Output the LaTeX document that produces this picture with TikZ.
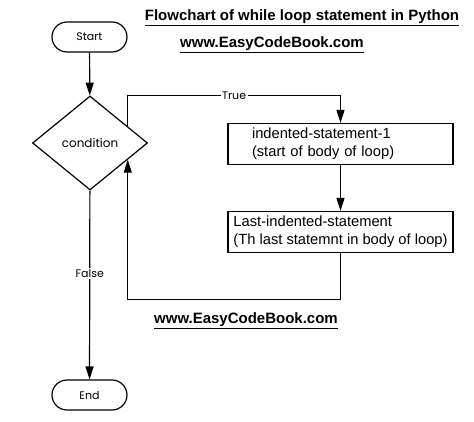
\documentclass[tikz,border=0pt]{standalone}
\usepackage{fontspec}
\setmainfont{Liberation Sans}
\newfontfamily\gothic{Poppins}
\usetikzlibrary{shapes.geometric,arrows.meta,calc}
\tikzset{
  flow/.style={line width=1.2pt, -{Triangle[length=13pt,width=8pt]}},
  term/.style={draw, line width=1.2pt, rounded corners=15pt, minimum width=75pt,
    minimum height=30pt, font=\gothic\fontsize{11}{13}\selectfont},
  cond/.style={draw, diamond, line width=1.2pt, minimum width=115pt,
    minimum height=94pt, inner sep=0pt, font=\gothic\fontsize{12}{14}\selectfont},
  stmt/.style={draw, line width=1.2pt, align=left, minimum width=225pt,
    minimum height=41pt, font=\fontsize{14.7}{18}\selectfont},
  lab/.style={fill=white, inner sep=1.5pt, font=\gothic\fontsize{11}{13}\selectfont},
  heading/.style={font=\bfseries\fontsize{15}{18}\selectfont}
}
\begin{document}
\begin{tikzpicture}[x=1pt, y=-1pt]
        \useasboundingbox (0,0) rectangle (474,422);
        % titles
        \node[heading] (title) at (302,18) {\underline{Flowchart of while loop statement in Python}};
        \node[heading] (site1) at (272,45) {\underline{www.EasyCodeBook.com}};
        \node[heading] (site2) at (246,321) {\underline{www.EasyCodeBook.com}};
        % shapes
        \node[term] (start) at (89.5,37) {Start};
        \node[cond] (cond) at (90,143) {condition};
        \node[stmt, text width=177pt, inner xsep=24pt] (body1) at (340.5,144)
            {indented-statement-1\\(start of body of loop)};
        \node[stmt, inner xsep=3pt] (body2) at (340.5,232)
            {Last-indented-statement\\(Th last statemnt in body of loop)};
        \node[term] (end) at (89.5,395) {End};
        % connectors
        \coordinate (up) at ($(cond.north)!0.65!(cond.east)$);
        \coordinate (back) at ($(cond.south)!0.65!(cond.east)$);
        \draw[flow] (start) -- (cond);
        \draw[flow] (up) -- (up |- cond.north)
            -- node[lab]{True} (body1.north |- cond.north) -- (body1.north);
        \draw[flow] (body1) -- (body2);
        \draw[flow] (body2.south) -- ++(0,46) -| (back);
        \draw[flow] (cond) -- node[lab, pos=0.44]{False} (end);
    \end{tikzpicture}
\end{document}
